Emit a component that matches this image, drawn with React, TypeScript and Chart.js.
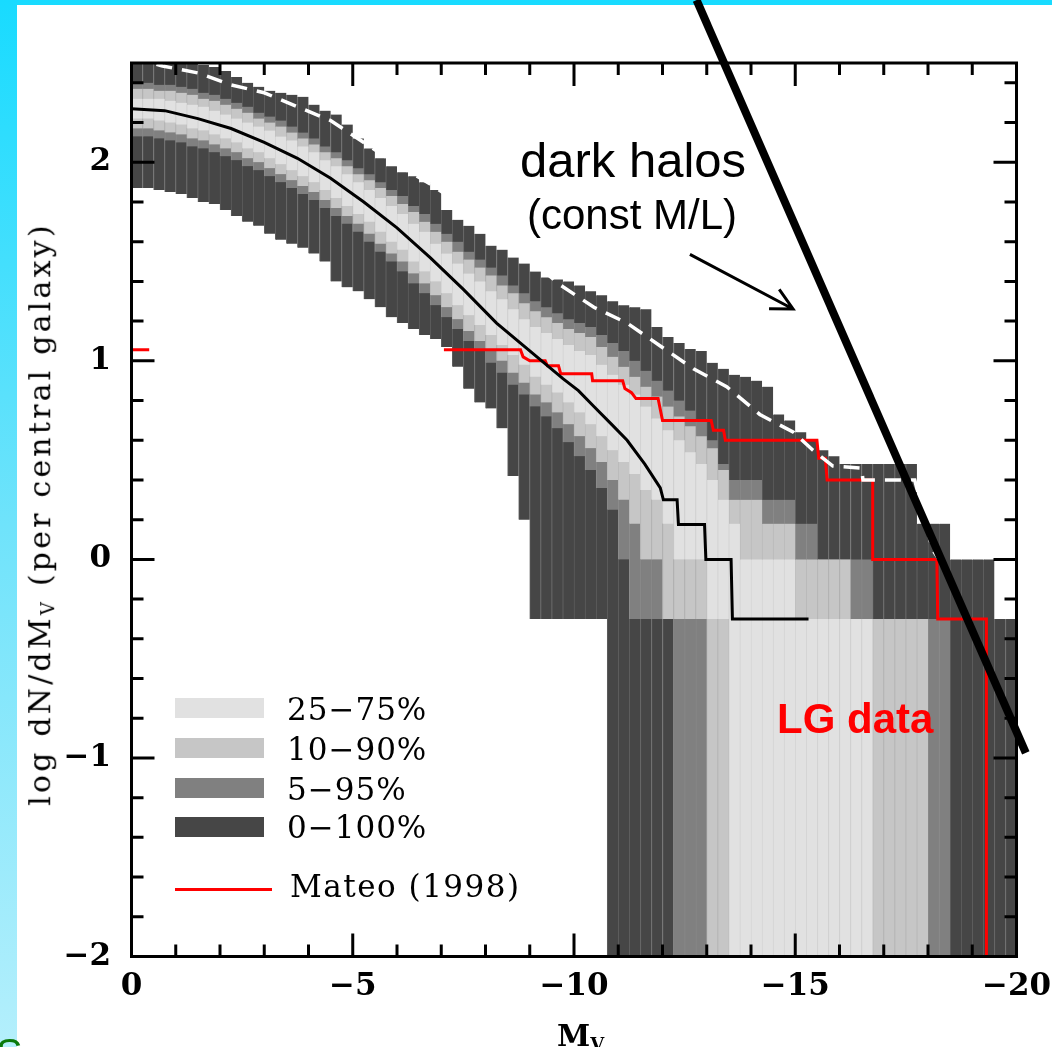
import React, { useEffect, useRef } from "react";
import { Chart, registerables } from "chart.js";

Chart.register(...registerables);

const NONE = -2.5;

// bin centres (M_V), 0.25 mag bins
const binM = [
  -0.125, -0.375, -0.625, -0.875, -1.125, -1.375, -1.625, -1.875,
  -2.125, -2.375, -2.625, -2.875, -3.125, -3.375, -3.625, -3.875,
  -4.125, -4.375, -4.625, -4.875, -5.125, -5.375, -5.625, -5.875,
  -6.125, -6.375, -6.625, -6.875, -7.125, -7.375, -7.625, -7.875,
  -8.125, -8.375, -8.625, -8.875, -9.125, -9.375, -9.625, -9.875,
  -10.125, -10.375, -10.625, -10.875, -11.125, -11.375, -11.625, -11.875,
  -12.125, -12.375, -12.625, -12.875, -13.125, -13.375, -13.625, -13.875,
  -14.125, -14.375, -14.625, -14.875, -15.125, -15.375, -15.625, -15.875,
  -16.125, -16.375, -16.625, -16.875, -17.125, -17.375, -17.625, -17.875,
  -18.125, -18.375, -18.625, -18.875, -19.125, -19.375, -19.625, -19.875,
];

const p100 = [
  2.52, 2.52, 2.52, 2.52, 2.52, 2.52, 2.49, 2.48,
  2.46, 2.43, 2.40, 2.38, 2.36, 2.35, 2.34, 2.33,
  2.29, 2.26, 2.24, 2.19, 2.12, 2.07, 2.02, 1.98,
  1.95, 1.93, 1.90, 1.86, 1.76, 1.71, 1.68, 1.64,
  1.58, 1.56, 1.52, 1.49, 1.45, 1.42, 1.41, 1.40,
  1.38, 1.35, 1.33, 1.30, 1.28, 1.27, 1.26, 1.17,
  1.12, 1.09, 1.06, 1.05, 0.99, 0.96, 0.93, 0.92,
  0.90, 0.87, 0.73, 0.70, 0.64, 0.60, 0.55, 0.52,
  0.48, 0.48, 0.48, 0.48, 0.48, 0.48, 0.48, 0.18,
  0.18, 0.18, 0, 0, 0, 0, -0.3, -0.3,
];
const p95 = [
  2.40, 2.40, 2.39, 2.39, 2.38, 2.37, 2.35, 2.34,
  2.32, 2.30, 2.28, 2.25, 2.23, 2.21, 2.18, 2.15,
  2.12, 2.08, 2.05, 2.01, 1.97, 1.94, 1.90, 1.86,
  1.83, 1.78, 1.74, 1.69, 1.64, 1.60, 1.55, 1.51,
  1.47, 1.43, 1.38, 1.34, 1.30, 1.27, 1.24, 1.21,
  1.19, 1.17, 1.13, 1.09, 1.05, 1.00, 0.95, 0.90,
  0.85, 0.80, 0.75, 0.70, 0.60, 0.48, 0.40, 0.40,
  0.40, 0.30, 0.30, 0.30, 0.18, 0.18, 0, 0,
  0, 0, 0, -0.3, -0.3, -0.3, -0.3, -0.3,
  -0.3, -0.3, NONE, NONE, NONE, NONE, NONE, NONE,
];
const p90 = [
  2.37, 2.37, 2.36, 2.36, 2.35, 2.34, 2.32, 2.31,
  2.29, 2.27, 2.25, 2.22, 2.20, 2.18, 2.15, 2.12,
  2.09, 2.05, 2.02, 1.98, 1.94, 1.91, 1.87, 1.83,
  1.79, 1.75, 1.70, 1.65, 1.60, 1.55, 1.51, 1.47,
  1.43, 1.38, 1.34, 1.29, 1.25, 1.22, 1.19, 1.16,
  1.14, 1.12, 1.07, 1.02, 0.97, 0.92, 0.87, 0.82,
  0.77, 0.72, 0.67, 0.62, 0.56, 0.45, 0.30, 0.30,
  0.30, 0.18, 0.18, 0.18, 0, 0, 0, 0,
  0, -0.3, -0.3, -0.3, -0.3, -0.3, -0.3, -0.3,
  NONE, NONE, NONE, NONE, NONE, NONE, NONE, NONE,
];
const p75 = [
  2.32, 2.32, 2.32, 2.31, 2.30, 2.29, 2.28, 2.26,
  2.24, 2.22, 2.20, 2.18, 2.16, 2.13, 2.11, 2.08,
  2.05, 2.01, 1.98, 1.94, 1.90, 1.86, 1.82, 1.78,
  1.74, 1.69, 1.65, 1.59, 1.54, 1.49, 1.44, 1.40,
  1.35, 1.31, 1.26, 1.21, 1.17, 1.14, 1.11, 1.08,
  1.05, 1.03, 0.98, 0.93, 0.88, 0.83, 0.77, 0.71,
  0.65, 0.60, 0.54, 0.48, 0.40, 0.30, 0.18, 0,
  0, 0, 0, 0, -0.3, -0.3, -0.3, -0.3,
  -0.3, -0.3, -0.3, NONE, NONE, NONE, NONE, NONE,
  NONE, NONE, NONE, NONE, NONE, NONE, NONE, NONE,
];
const p25 = [
  2.22, 2.22, 2.21, 2.20, 2.19, 2.17, 2.16, 2.14,
  2.12, 2.10, 2.07, 2.05, 2.02, 1.99, 1.96, 1.93,
  1.90, 1.86, 1.82, 1.78, 1.74, 1.70, 1.65, 1.60,
  1.56, 1.50, 1.45, 1.40, 1.34, 1.28, 1.23, 1.18,
  1.13, 1.08, 1.03, 0.98, 0.92, 0.88, 0.84, 0.79,
  0.74, 0.68, 0.62, 0.55, 0.49, 0.43, 0.35, 0.30,
  0.18, 0, 0, 0, -0.3, -0.3, NONE, NONE,
  NONE, NONE, NONE, NONE, NONE, NONE, NONE, NONE,
  NONE, NONE, NONE, NONE, NONE, NONE, NONE, NONE,
  NONE, NONE, NONE, NONE, NONE, NONE, NONE, NONE,
];
const p10 = [
  2.17, 2.17, 2.16, 2.15, 2.14, 2.12, 2.11, 2.09,
  2.07, 2.05, 2.02, 2.00, 1.97, 1.94, 1.91, 1.88,
  1.85, 1.81, 1.77, 1.73, 1.69, 1.64, 1.59, 1.54,
  1.50, 1.44, 1.39, 1.33, 1.27, 1.21, 1.15, 1.10,
  1.05, 1.00, 0.94, 0.89, 0.83, 0.79, 0.74, 0.68,
  0.62, 0.56, 0.49, 0.40, 0.30, 0.18, 0, 0,
  -0.3, -0.3, -0.3, -0.3, NONE, NONE, NONE, NONE,
  NONE, NONE, NONE, NONE, NONE, NONE, NONE, NONE,
  NONE, NONE, NONE, NONE, NONE, NONE, NONE, NONE,
  NONE, NONE, NONE, NONE, NONE, NONE, NONE, NONE,
];
const p5 = [
  2.13, 2.13, 2.12, 2.11, 2.10, 2.08, 2.07, 2.05,
  2.03, 2.01, 1.98, 1.96, 1.93, 1.90, 1.87, 1.84,
  1.81, 1.77, 1.73, 1.69, 1.65, 1.60, 1.55, 1.50,
  1.45, 1.39, 1.34, 1.28, 1.22, 1.16, 1.10, 1.05,
  0.99, 0.94, 0.88, 0.83, 0.77, 0.72, 0.66, 0.59,
  0.52, 0.45, 0.36, 0.25, 0, -0.3, -0.3, -0.3,
  -0.3, NONE, NONE, NONE, NONE, NONE, NONE, NONE,
  NONE, NONE, NONE, NONE, NONE, NONE, NONE, NONE,
  NONE, NONE, NONE, NONE, NONE, NONE, NONE, NONE,
  NONE, NONE, NONE, NONE, NONE, NONE, NONE, NONE,
];
const p0 = [
  1.87, 1.87, 1.86, 1.85, 1.84, 1.82, 1.80, 1.79,
  1.76, 1.73, 1.70, 1.68, 1.64, 1.61, 1.59, 1.57,
  1.54, 1.50, 1.40, 1.37, 1.35, 1.31, 1.27, 1.22,
  1.19, 1.16, 1.13, 1.11, 1.07, 0.97, 0.86, 0.79,
  0.76, 0.66, 0.42, 0.20, -0.3, -0.3, -0.3, -0.3,
  -0.3, -0.3, -0.3, NONE, NONE, NONE, NONE, NONE,
  NONE, NONE, NONE, NONE, NONE, NONE, NONE, NONE,
  NONE, NONE, NONE, NONE, NONE, NONE, NONE, NONE,
  NONE, NONE, NONE, NONE, NONE, NONE, NONE, NONE,
  NONE, NONE, NONE, NONE, NONE, NONE, NONE, NONE,
];

// median (black solid)
const medianM = [0, -0.75, -1.5, -2.25, -3.0, -3.75, -4.5, -5.25, -6.0, -6.75, -7.5, -8.25, -9.0, -9.75, -10.1, -10.45, -10.85, -11.2, -11.6, -11.95, -12.02, -12.33, -12.36, -12.95, -12.98, -13.55, -13.58, -15.3];
const medianLogN = [2.27, 2.26, 2.22, 2.17, 2.10, 2.02, 1.92, 1.80, 1.67, 1.52, 1.36, 1.19, 1.05, 0.91, 0.85, 0.77, 0.68, 0.60, 0.48, 0.36, 0.30, 0.30, 0.176, 0.176, 0, 0, -0.3, -0.3];

// white dashed
const dashM = [0, -0.7, -1.5, -2.25, -3.0, -3.75, -4.5, -5.25, -6.0, -6.75, -7.5, -8.25, -9.0, -9.7, -10.45, -11.2, -11.95, -12.7, -13.45, -14.2, -14.96, -15.4, -15.85, -16.5, -16.53, -17.7, -18.1, -18.25];
const dashLogN = [2.53, 2.485, 2.45, 2.39, 2.35, 2.28, 2.21, 2.10, 1.99, 1.89, 1.78, 1.65, 1.51, 1.38, 1.27, 1.19, 1.075, 0.96, 0.87, 0.73, 0.64, 0.55, 0.47, 0.46, 0.40, 0.40, 0.05, 0];

// Mateo (1998), red steps
const mateoStubM = [0, -0.4];
const mateoStubLogN = [1.056, 1.056];
const mateoM = [-7.06, -8.79, -8.85, -9.0, -9.35, -9.4, -9.65, -9.7, -10.4, -10.42, -11.1, -11.15, -11.3, -11.4, -11.9, -12.0, -13.1, -13.15, -13.38, -13.42, -15.49, -15.53, -15.68, -15.72, -16.75, -16.75, -18.2, -18.22, -19.32, -19.32];
const mateoLogN = [1.056, 1.056, 1.02, 1.0, 1.0, 0.975, 0.975, 0.935, 0.935, 0.90, 0.90, 0.86, 0.84, 0.81, 0.81, 0.70, 0.70, 0.65, 0.65, 0.60, 0.60, 0.51, 0.51, 0.40, 0.40, 0, 0, -0.3, -0.3, -2.5];

// dark halos (const M/L) line
const haloM = [-12.77, -20.21];
const haloLogN = [2.817, -0.974];

// annotation arrow (tail, tip)
const arrowM = [-12.62, -14.95];
const arrowLogN = [1.536, 1.261];

const xTickValues = [0, -5, -10, -15, -20];
const yTickValues = [-2, -1, 0, 1, 2];

const legendLabels = ["25\u221275%", "10\u221290%", "5\u221295%", "0\u2212100%"];
const bandFill = ["#e1e1e1", "#c6c6c6", "#808080", "#464646"];
const bandStripe = ["#d5d5d5", "#bababa", "#8c8c8c", "#5e5e5e"];

const fmt = (v: number) => (v < 0 ? "\u2212" + Math.abs(v) : String(v));

export default function App() {
  const canvasRef = useRef<HTMLCanvasElement | null>(null);

  useEffect(() => {
    const canvas = canvasRef.current;
    if (!canvas) return;
    const pts = (xs: number[], ys: number[]) => xs.map((x, i) => ({ x, y: ys[i] }));
    const band = (label: string, lo: number[], hi: number[], k: number, order: number) => ({
      type: "bar" as const,
      label,
      order,
      data: binM.map((x, i) => ({ x, y: [lo[i], hi[i]] })),
      backgroundColor: bandFill[k],
      borderColor: bandStripe[k],
      borderWidth: { left: 1, right: 0, top: 0, bottom: 0 },
      borderSkipped: false,
      grouped: false,
      barPercentage: 1,
      categoryPercentage: 1,
    });
    const line = (label: string, xs: number[], ys: number[], color: string, width: number, extra: any = {}) => ({
      type: "line" as const,
      label,
      order: 0,
      data: pts(xs, ys),
      borderColor: color,
      borderWidth: width,
      pointRadius: 0,
      tension: 0,
      fill: false,
      ...extra,
    });

    const overlay = {
      id: "frameTicks",
      afterDatasetsDraw(chart: any) {
        const { ctx, chartArea: a } = chart;
        const xs = chart.scales.x;
        const ys = chart.scales.y;
        ctx.save();
        ctx.strokeStyle = "#000";
        ctx.lineWidth = 3;
        ctx.lineCap = "butt";
        ctx.beginPath();
        for (let v = 0; v >= -20; v -= 1) {
          const p = xs.getPixelForValue(v);
          const len = v % 5 === 0 ? 23 : 12;
          ctx.moveTo(p, a.bottom);
          ctx.lineTo(p, a.bottom - len);
          ctx.moveTo(p, a.top);
          ctx.lineTo(p, a.top + len);
        }
        for (let k = -10; k <= 12; k++) {
          const p = ys.getPixelForValue(k / 5);
          const len = k % 5 === 0 ? 23 : 12;
          ctx.moveTo(a.left, p);
          ctx.lineTo(a.left + len, p);
          ctx.moveTo(a.right, p);
          ctx.lineTo(a.right - len, p);
        }
        ctx.stroke();
        ctx.strokeRect(a.left, a.top, a.right - a.left, a.bottom - a.top);
        // arrow
        const x0 = xs.getPixelForValue(arrowM[0]);
        const y0 = ys.getPixelForValue(arrowLogN[0]);
        const x1 = xs.getPixelForValue(arrowM[1]);
        const y1 = ys.getPixelForValue(arrowLogN[1]);
        const ang = Math.atan2(y1 - y0, x1 - x0);
        const hl = 24;
        const spread = (27 * Math.PI) / 180;
        ctx.lineWidth = 3;
        ctx.beginPath();
        ctx.moveTo(x0, y0);
        ctx.lineTo(x1, y1);
        ctx.moveTo(x1 - hl * Math.cos(ang - spread), y1 - hl * Math.sin(ang - spread));
        ctx.lineTo(x1, y1);
        ctx.lineTo(x1 - hl * Math.cos(ang + spread), y1 - hl * Math.sin(ang + spread));
        ctx.stroke();
        ctx.restore();
      },
    };

    const tickFont = { family: "'DejaVu Serif'", size: 31, weight: "bold" as const };

    const chart = new Chart(canvas, {
      type: "bar",
      data: {
        datasets: [
          line("dark halos", haloM, haloLogN, "#000", 8, { clip: false }),
          line("median", medianM, medianLogN, "#000", 3),
          line("mean", dashM, dashLogN, "#ffffff", 3.5, { borderDash: [16, 10] }),
          line("Mateo stub", mateoStubM, mateoStubLogN, "#ff0000", 3),
          line("Mateo (1998)", mateoM, mateoLogN, "#ff0000", 3),
          band("25-75%", p25, p75, 0, 1),
          band("10-90%", p10, p90, 1, 2),
          band("5-95%", p5, p95, 2, 3),
          band("0-100%", p0, p100, 3, 4),
        ] as any,
      },
      options: {
        animation: false,
        responsive: false,
        devicePixelRatio: 1,
        layout: { padding: { left: 0, top: 63, right: 35.5, bottom: 0 } },
        plugins: { legend: { display: false }, tooltip: { enabled: false } },
        scales: {
          x: {
            type: "linear",
            min: -20,
            max: 0,
            reverse: true,
            offset: false,
            grid: { display: false, drawTicks: false },
            border: { display: false },
            ticks: { font: tickFont, color: "#000", padding: 12, maxRotation: 0, autoSkip: false, callback: (v: any) => fmt(Number(v)) },
            afterBuildTicks: (s: any) => {
              s.ticks = xTickValues.map((v) => ({ value: v }));
            },
            afterFit: (s: any) => {
              s.height = 90.5;
              s.paddingLeft = 0;
              s.paddingRight = 0;
            },
          },
          y: {
            type: "linear",
            min: -2,
            max: 2.5,
            grid: { display: false, drawTicks: false },
            border: { display: false },
            ticks: { font: tickFont, color: "#000", padding: 20.5, callback: (v: any) => fmt(Number(v)) },
            afterBuildTicks: (s: any) => {
              s.ticks = yTickValues.map((v) => ({ value: v }));
            },
            afterFit: (s: any) => {
              s.width = 131.5;
              s.paddingTop = 0;
              s.paddingBottom = 0;
            },
          },
        },
      } as any,
      plugins: [overlay],
    });
    return () => chart.destroy();
  }, []);

  const serif = "'DejaVu Serif', serif";
  const sans = "'Liberation Sans', Arial, sans-serif";
  const legendTops = [698, 738, 778, 817];
  const legendBase = [720, 760, 800, 838];

  return (
    <div
      style={{
        position: "absolute",
        left: 0,
        top: 0,
        width: 1052,
        height: 1047,
        overflow: "hidden",
        background: "linear-gradient(180deg, #18dbff 0%, #6fe3fb 50%, #b4effc 100%)",
      }}
    >
      <div style={{ position: "absolute", left: 17, top: 5, right: 0, bottom: 0, background: "#fff" }} />
      <canvas ref={canvasRef} width={1052} height={1047} style={{ position: "absolute", left: 0, top: 0, width: 1052, height: 1047 }} />

      {legendLabels.map((lab, i) => (
        <React.Fragment key={lab}>
          <div style={{ position: "absolute", left: 175, top: legendTops[i], width: 89, height: 20, background: bandFill[i] }} />
          <div
            style={{
              position: "absolute",
              left: 287,
              top: legendBase[i] - 0.846 * 31,
              fontFamily: serif,
              fontSize: 31,
              lineHeight: 1,
              letterSpacing: "1px",
              whiteSpace: "nowrap",
              color: "#000",
            }}
          >
            {lab}
          </div>
        </React.Fragment>
      ))}
      <div style={{ position: "absolute", left: 175, top: 887.5, width: 97, height: 3, background: "#ff0000" }} />
      <div
        style={{
          position: "absolute",
          left: 290,
          top: 897 - 0.846 * 31,
          fontFamily: serif,
          fontSize: 31,
          lineHeight: 1,
          letterSpacing: "1.5px",
          whiteSpace: "nowrap",
          color: "#000",
        }}
      >
        Mateo (1998)
      </div>

      <div style={{ position: "absolute", left: 520, top: 177 - 0.8465 * 49, fontFamily: sans, fontSize: 49, lineHeight: 1, whiteSpace: "nowrap", color: "#000" }}>
        dark halos
      </div>
      <div style={{ position: "absolute", left: 527, top: 230 - 0.8465 * 42, fontFamily: sans, fontSize: 42, lineHeight: 1, whiteSpace: "nowrap", color: "#000" }}>
        (const M/L)
      </div>
      <div style={{ position: "absolute", left: 777, top: 734 - 0.8465 * 42, fontFamily: sans, fontWeight: "bold", fontSize: 42, lineHeight: 1, whiteSpace: "nowrap", color: "#ff0000" }}>
        LG data
      </div>

      <div
        style={{
          position: "absolute",
          left: 41,
          top: 513.5,
          transform: "translate(-50%, -50%) rotate(-90deg)",
          whiteSpace: "nowrap",
          fontFamily: serif,
          fontSize: 30,
          lineHeight: 1,
          letterSpacing: "3.2px",
          color: "#000",
        }}
      >
        log dN/dM<sub style={{ fontSize: "0.6em", verticalAlign: "-0.2em" }}>V</sub> (per central galaxy)
      </div>
      <div style={{ position: "absolute", left: 557, top: 1046 - 0.846 * 30, fontFamily: serif, fontWeight: "bold", fontSize: 30, lineHeight: 1, whiteSpace: "nowrap", color: "#000" }}>
        M<sub style={{ fontSize: "0.6em", verticalAlign: "-0.25em" }}>V</sub>
      </div>
      <div style={{ position: "absolute", left: -4, top: 1033, fontFamily: sans, fontSize: 40, lineHeight: 1, color: "#0b7a0b" }}>S</div>
    </div>
  );
}
